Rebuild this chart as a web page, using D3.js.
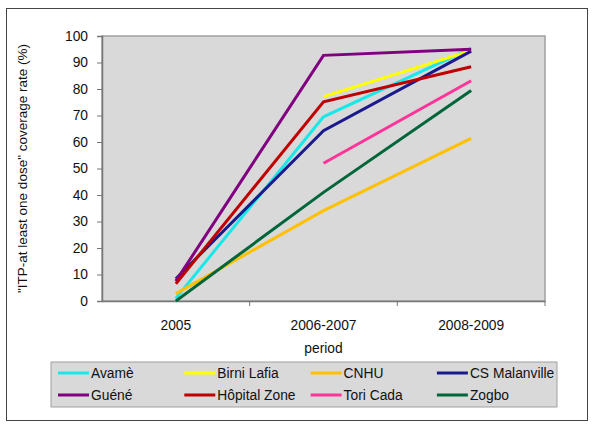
<!DOCTYPE html>
<html>
<head>
<meta charset="utf-8">
<script src="https://cdn.jsdelivr.net/npm/d3@7"></script>
<style>
  body { margin: 0; background: #fff; }
  text { font-family: "Liberation Sans", Arial, sans-serif; fill: #111; }
</style>
</head>
<body>
<div id="chart"></div>
<script>
const periods = ['2005', '2006-2007', '2008-2009'];
const yTicks = [0, 10, 20, 30, 40, 50, 60, 70, 80, 90, 100];

const siteNames = ['Avamè', 'Birni Lafia', 'CNHU', 'CS Malanville', 'Guéné', 'Hôpital Zone', 'Tori Cada', 'Zogbo'];
const avame = [1, 69.5, 95.3];
const birniLafia = [null, 77.1, 94.5];
const cnhu = [2.8, 34.1, 61.4];
const csMalanville = [8.4, 64.3, 94.3];
const guene = [7.5, 92.7, 95];
const hopitalZone = [6.5, 75.2, 88.4];
const toriCada = [null, 52, 83.1];
const zogbo = [0, 41, 79.4];
const siteColors = ['#19e8e8', '#ffff00', '#ffc000', '#1a1a8c', '#800080', '#c00000', '#ff3399', '#00663a'];

const series = siteNames.map((name, i) => ({
  name,
  color: siteColors[i],
  values: [avame, birniLafia, cnhu, csMalanville, guene, hopitalZone, toriCada, zogbo][i]
}));

const W = 600, H = 437;
const margin = { top: 36, right: 55, bottom: 136, left: 102 };
const width = W - margin.left - margin.right;
const height = H - margin.top - margin.bottom;
const fontSize = '13.8px';

const svg = d3.select('#chart').append('svg').attr('width', W).attr('height', H);

// outer frame
svg.append('rect')
  .attr('x', 6.5).attr('y', 8.5).attr('width', 581).attr('height', 412)
  .attr('fill', 'none').attr('stroke', '#444').attr('stroke-width', 1);

const g = svg.append('g').attr('transform', 'translate(' + margin.left + ',' + margin.top + ')');

const x = d3.scaleBand().domain(periods).range([0, width]);
const y = d3.scaleLinear().domain([0, 100]).range([height, 0]);

g.append('rect')
  .attr('width', width).attr('height', height)
  .attr('fill', '#d9d9d9').attr('stroke', '#a0a0a0').attr('stroke-width', 1.5);

// y axis
const yAxis = g.append('g').call(d3.axisLeft(y).tickValues(yTicks).tickSize(5).tickPadding(9));
yAxis.select('.domain').attr('stroke', '#777').attr('stroke-width', 1.5);
yAxis.selectAll('.tick line').attr('stroke', '#777');
yAxis.selectAll('.tick text').style('font-size', fontSize).attr('fill', '#111');

// x axis
const xAxis = g.append('g').attr('transform', 'translate(0,' + height + ')')
  .call(d3.axisBottom(x).tickSize(0).tickPadding(19));
xAxis.select('.domain').attr('stroke', '#777').attr('stroke-width', 1.5);
xAxis.selectAll('.tick text').style('font-size', fontSize).attr('fill', '#111');
g.append('g').attr('transform', 'translate(0,' + height + ')')
  .selectAll('line')
  .data(periods.slice(1).concat(['end']))
  .enter()
  .append('line')
  .attr('x1', (d, i) => x.bandwidth() * (i + 1))
  .attr('x2', (d, i) => x.bandwidth() * (i + 1))
  .attr('y1', 0).attr('y2', 5)
  .attr('stroke', '#777');

// axis titles
g.append('text')
  .attr('x', width / 2).attr('y', height + 52)
  .style('text-anchor', 'middle').style('font-size', fontSize)
  .text('period');

g.append('text')
  .attr('transform', 'rotate(-90)')
  .attr('x', -height / 2).attr('y', -75)
  .style('text-anchor', 'middle').style('font-size', '13.5px')
  .text('"ITP-at least one dose" coverage rate (%)');

// lines
const line = d3.line()
  .defined((d) => d != null)
  .x((d, i) => x(periods[i]) + x.bandwidth() / 2)
  .y((d) => y(d));

g.selectAll('.series')
  .data(series)
  .enter()
  .append('path')
  .attr('class', 'series')
  .attr('d', (d) => line(d.values))
  .attr('fill', 'none')
  .attr('stroke', (d) => d.color)
  .attr('stroke-width', 3);

// legend
const legend = svg.append('g').attr('transform', 'translate(51,362)');
legend.append('rect')
  .attr('width', 506).attr('height', 45)
  .attr('fill', '#d9d9d9').attr('stroke', '#a0a0a0').attr('stroke-width', 1);

const items = legend.selectAll('.item')
  .data(series)
  .enter()
  .append('g')
  .attr('class', 'item')
  .attr('transform', (d, i) => 'translate(' + (7 + (i % 4) * 126.3) + ',' + (11 + Math.floor(i / 4) * 22) + ')');

items.append('line')
  .attr('x1', 0).attr('x2', 31)
  .attr('stroke', (d) => d.color).attr('stroke-width', 3);

items.append('text')
  .attr('x', 33).attr('dy', '0.36em')
  .style('font-size', fontSize)
  .text((d) => d.name);
</script>
</body>
</html>
